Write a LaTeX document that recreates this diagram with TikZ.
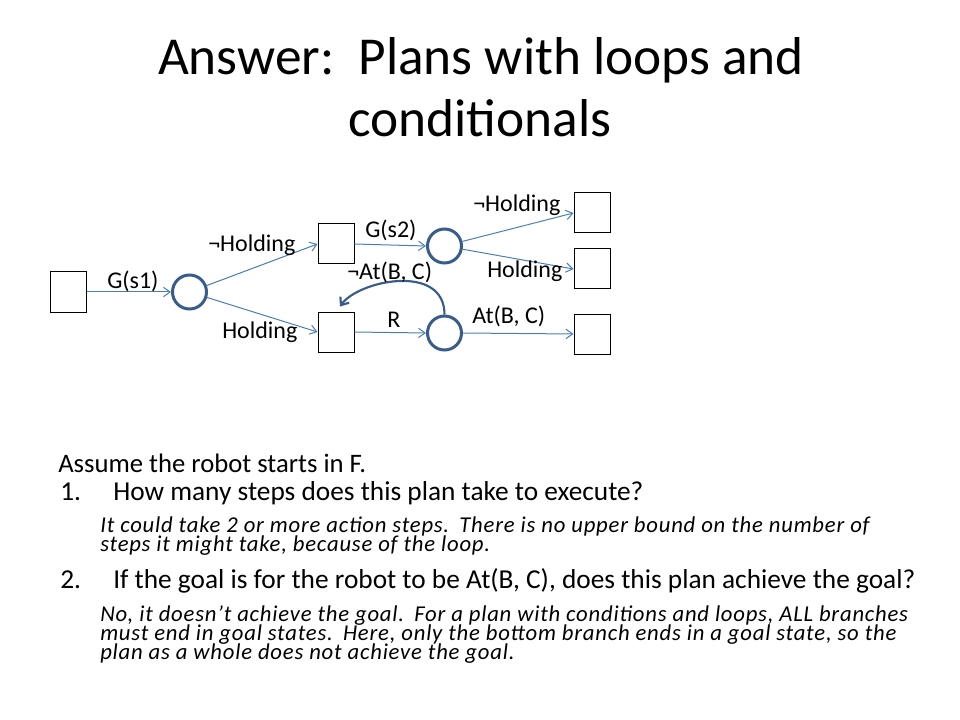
\documentclass[tikz,border=0pt]{standalone}
\usepackage{fontspec}
\setmainfont{Carlito}
\usetikzlibrary{arrows.meta}
\definecolor{arrowblue}{HTML}{4A7EBB}
\definecolor{ringblue}{HTML}{385D8A}
\frenchspacing
\begin{document}
\begin{tikzpicture}[x=0.75pt,y=-0.75pt,
  statebox/.style={draw=black, line width=0.75pt, fill=white, minimum width=27pt, minimum height=30pt, inner sep=0pt},
  ring/.style={circle, draw=ringblue, line width=2.25pt, fill=white, minimum size=25.5pt, inner sep=0pt},
  flow/.style={draw=arrowblue, line width=0.75pt, -{Straight Barb[length=5pt,width=7pt]}},
  loopflow/.style={draw=ringblue, line width=1.6pt, -{Straight Barb[length=5pt,width=8pt]}},
  lbl/.style={font=\fontsize{18}{21.6}\selectfont, inner sep=0pt, anchor=base west},
  titletext/.style={font=\fontsize{40}{48}\selectfont, inner sep=0pt, anchor=base},
  bodytext/.style={font=\fontsize{20.5}{24}\selectfont, inner sep=0pt, anchor=base west},
  itext/.style={font=\fontsize{17}{19}\selectfont\itshape\addfontfeature{LetterSpace=3.5}, inner sep=0pt, anchor=base west}]
\useasboundingbox (0,0) rectangle (960,720);

% title
\node[titletext] (title1) at (481,75) {Answer:\hspace{0.45em}Plans with loops and};
\node[titletext] (title2) at (480,137) {conditionals};

% diagram nodes
\node[statebox] (b1) at (68.5,292) {};
\node[ring] (c1) at (189.5,292) {};
\node[statebox] (b2) at (336,244) {};
\node[statebox] (b3) at (336,332) {};
\node[ring] (c2) at (444.5,246) {};
\node[ring] (c3) at (444.5,333) {};
\node[statebox] (t1) at (592,213) {};
\node[statebox] (t2) at (592,269) {};
\node[statebox] (t3) at (592,334) {};

% connectors
\draw[flow] (b1.east) -- (c1.west);
\draw[flow] (c1) -- (b2.west);
\draw[flow] (c1) -- (b3.west);
\draw[flow] (b2.east) -- (c2.west);
\draw[flow] (b3.east) -- (c3.west);
\draw[flow] (c2) -- (t1.west);
\draw[flow] (c2) -- (t2.west);
\draw[flow] (c3.east) -- (t3.west);
\draw[loopflow] (c3.north) .. controls +(0,-52) and +(18,-26) .. ([xshift=3pt,yshift=3.7pt]b3.north);

% edge labels
\node[lbl] (l1) at (107,288) {G(s1)};
\node[lbl] (l2) at (208,252) {¬Holding};
\node[lbl] (l3) at (222,339) {Holding};
\node[lbl] (l4) at (365,238) {G(s2)};
\node[lbl] (l5) at (347,280) {¬At(B, C)};
\node[lbl] (l6) at (387,327) {R};
\node[lbl] (l7) at (473,212) {¬Holding};
\node[lbl] (l8) at (487,277) {Holding};
\node[lbl] (l9) at (472,323) {At(B, C)};

% body text
\node[bodytext, font=\fontsize{20}{24}\selectfont] (t0) at (58,472) {Assume the robot starts in F.};
\node[bodytext] (n1) at (60,500) {1.};
\node[bodytext] (q1) at (113,500) {How many steps does this plan take to execute?};
\node[itext] (a1a) at (100,532) {It could take 2 or more action steps.\hspace{0.45em}There is no upper bound on the number of};
\node[itext] (a1b) at (100,551) {steps it might take, because of the loop.};
\node[bodytext] (n2) at (60,588) {2.};
\node[bodytext] (q2) at (113,588) {If the goal is for the robot to be At(B, C), does this plan achieve the goal?};
\node[itext] (a2a) at (100,621) {No, it doesn’t achieve the goal.\hspace{0.45em}For a plan with conditions and loops, ALL branches};
\node[itext] (a2b) at (100,640) {must end in goal states.\hspace{0.45em}Here, only the bottom branch ends in a goal state, so the};
\node[itext] (a2c) at (100,659) {plan as a whole does not achieve the goal.};
\end{tikzpicture}
\end{document}
